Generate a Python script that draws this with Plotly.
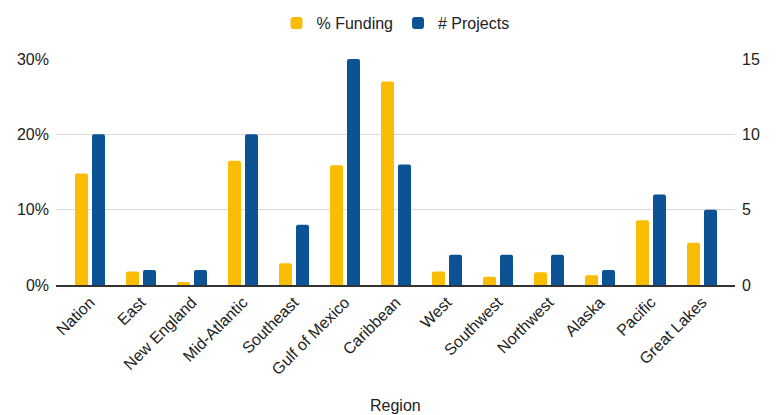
import plotly.graph_objects as go

regions = ["Nation", "East", "New England", "Mid-Atlantic", "Southeast",
           "Gulf of Mexico", "Caribbean", "West", "Southwest", "Northwest",
           "Alaska", "Pacific", "Great Lakes"]
funding_pct = [0.148, 0.018, 0.004, 0.165, 0.029, 0.159, 0.270,
               0.018, 0.011, 0.017, 0.013, 0.086, 0.056]
projects = [10, 1, 1, 10, 4, 15, 8, 2, 2, 2, 1, 6, 5]

FONT = "Liberation Sans, Arial, sans-serif"
TEXT = "#222222"
YELLOW = "#FBBC04"
BLUE = "#0B5394"

W, H = 778, 415
M_L, M_R, M_T, M_B = 56, 43, 59, 130
plot_h = H - M_T - M_B

fig = go.Figure()
fig.add_trace(go.Bar(
    x=regions, y=funding_pct, name="% Funding",
    marker=dict(color=YELLOW, line=dict(width=0)),
    width=0.255, offset=-0.294, yaxis="y",
))
fig.add_trace(go.Bar(
    x=regions, y=projects, name="# Projects",
    marker=dict(color=BLUE, line=dict(width=0)),
    width=0.255, offset=0.039, yaxis="y2",
))

fig.update_layout(
    width=W, height=H,
    margin=dict(l=M_L, r=M_R, t=M_T, b=M_B, autoexpand=False),
    paper_bgcolor="white", plot_bgcolor="white",
    font=dict(family=FONT, size=16, color=TEXT),
    barmode="overlay",
    barcornerradius=2,
    showlegend=True,
    legend=dict(orientation="h", x=0.5, xanchor="center",
                yref="container", y=1 - 23 / H, yanchor="middle",
                font=dict(size=16, color=TEXT),
                itemwidth=30, traceorder="normal"),
    xaxis=dict(
        type="category", range=[-0.667, 12.647],
        tickangle=-45, showgrid=False, zeroline=False,
        showline=True, linecolor="#333333", linewidth=1.5,
        ticks="", tickfont=dict(size=16, color=TEXT),
        automargin=False,
    ),
    yaxis=dict(
        range=[0, 0.30], dtick=0.10, tickformat=".0%",
        showgrid=True, gridcolor="#d9d9d9", gridwidth=1.2,
        zeroline=False, ticks="", tickfont=dict(size=16, color=TEXT),
        ticklabelstandoff=6, automargin=False,
    ),
    yaxis2=dict(
        range=[0, 15], dtick=5, overlaying="y", side="right",
        showgrid=False, zeroline=False, ticks="",
        tickfont=dict(size=16, color=TEXT),
        ticklabelstandoff=6, automargin=False,
    ),
    annotations=[dict(
        text="Region", xref="paper", yref="paper",
        x=0.5, xanchor="center", y=-(405 - (H - M_B)) / plot_h, yanchor="middle",
        showarrow=False, font=dict(size=16, color=TEXT),
    )],
)

fig.write_html("out.html")
